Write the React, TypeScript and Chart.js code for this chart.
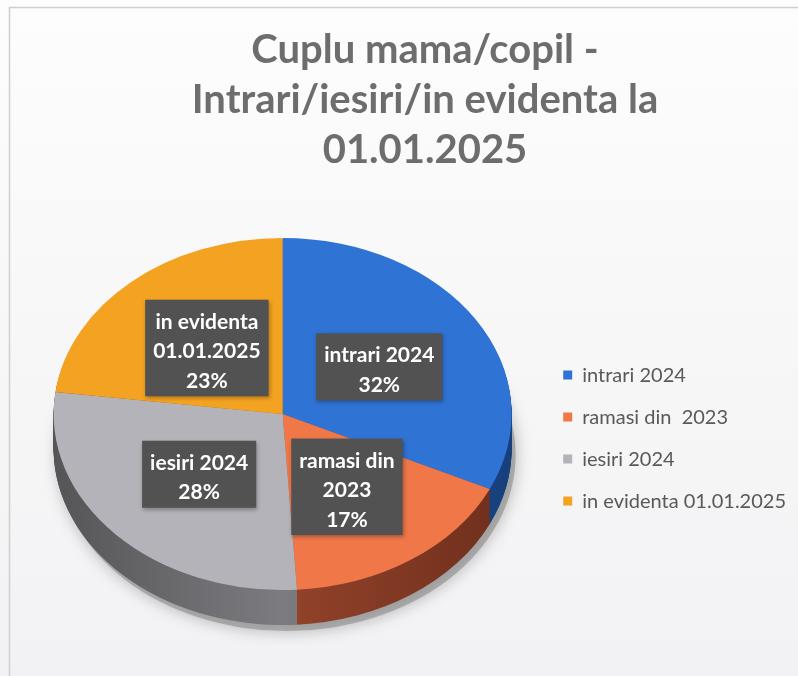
import React, { useEffect, useRef } from 'react';
import { Chart, registerables } from 'chart.js';

Chart.register(...registerables);

// ---- data ----
const categories = ['intrari 2024', 'ramasi din  2023', 'iesiri 2024', 'in evidenta 01.01.2025'];
const values = [32, 17, 28, 23];
const sliceLabelLines = [['intrari 2024'], ['ramasi din', '2023'], ['iesiri 2024'], ['in evidenta', '01.01.2025']];
const titleLines = ['Cuplu mama/copil -', 'Intrari/iesiri/in evidenta la', '01.01.2025'];

// ---- styles ----
const topColors = ['#2f73d4', '#f07848', '#b3b3b9', '#f3a321'];
const sideColors = ['#1f58a8', '#93432a', '#7c7c80', '#b07414'];
const sideEdgeColors = ['#173f7a', '#6e2e1c', '#555558', '#7a500c'];
const TILT = 0.7686;
const DEPTH = 35;
const FONT = 'Lato, "Open Sans", sans-serif';

const pageDecor = {
  id: 'pageDecor',
  beforeDraw(chart: any) {
    const { ctx, width, height } = chart;
    ctx.save();
    const g = ctx.createLinearGradient(0, 0, 0, height);
    g.addColorStop(0, '#fdfdfd');
    g.addColorStop(1, '#f2f1f3');
    ctx.fillStyle = g;
    ctx.fillRect(0, 0, width, height);
    ctx.strokeStyle = '#cfcfcf';
    ctx.lineWidth = 1.5;
    ctx.beginPath();
    ctx.moveTo(9.5, height);
    ctx.lineTo(9.5, 7.5);
    ctx.lineTo(width, 7.5);
    ctx.stroke();
    ctx.restore();
  },
  afterDraw(chart: any) {
    const { ctx } = chart;
    ctx.save();
    ctx.font = `bold 40px ${FONT}`;
    ctx.fillStyle = '#6d6d6d';
    ctx.textAlign = 'center';
    ctx.textBaseline = 'alphabetic';
    const baselines = [63, 113, 163];
    titleLines.forEach((t, i) => ctx.fillText(t, 425, baselines[i]));
    ctx.restore();
  },
};

let pushed = false;
const pie3d = {
  id: 'pie3d',
  beforeDatasetsDraw(chart: any) {
    const ctx = chart.ctx;
    const arcs = chart.getDatasetMeta(0).data;
    pushed = false;
    if (!arcs.length) return;
    const cx = arcs[0].x;
    const cy = arcs[0].y;
    const R = arcs[0].outerRadius;
    // soft shadow under pie
    ctx.save();
    ctx.translate(cx + 4, cy + DEPTH + 6);
    ctx.scale(1, TILT);
    ctx.shadowColor = 'rgba(0,0,0,0.45)';
    ctx.shadowBlur = 16;
    ctx.beginPath();
    ctx.arc(0, 0, R, 0, Math.PI * 2);
    ctx.fillStyle = 'rgba(140,140,140,0.6)';
    ctx.fill();
    ctx.restore();
    for (let d = DEPTH; d >= 1; d--) {
      ctx.save();
      ctx.translate(cx, cy + d);
      ctx.scale(1, TILT);
      arcs.forEach((a: any, i: number) => {
        const p = a.getProps(['startAngle', 'endAngle', 'outerRadius'], true);
        const g = ctx.createLinearGradient(-p.outerRadius, 0, p.outerRadius, 0);
        g.addColorStop(0, sideEdgeColors[i]);
        g.addColorStop(0.5, sideColors[i]);
        g.addColorStop(1, sideEdgeColors[i]);
        ctx.beginPath();
        ctx.moveTo(0, 0);
        ctx.arc(0, 0, p.outerRadius, p.startAngle, p.endAngle);
        ctx.closePath();
        ctx.fillStyle = g;
        ctx.fill();
      });
      ctx.restore();
    }
    ctx.save();
    ctx.translate(cx, cy);
    ctx.scale(1, TILT);
    ctx.translate(-cx, -cy);
    pushed = true;
  },
  afterDatasetsDraw(chart: any) {
    const ctx = chart.ctx;
    if (pushed) ctx.restore();
    pushed = false;
    const arcs = chart.getDatasetMeta(0).data;
    if (!arcs.length) return;
    const cx = arcs[0].x;
    const cy = arcs[0].y;
    const data = chart.data.datasets[0].data as number[];
    const total = data.reduce((s, v) => s + v, 0);
    ctx.save();
    ctx.font = `bold 21px ${FONT}`;
    arcs.forEach((a: any, i: number) => {
      const p = a.getProps(['startAngle', 'endAngle', 'outerRadius'], true);
      const mid = (p.startAngle + p.endAngle) / 2;
      const r = p.outerRadius * 0.5;
      const x = cx + Math.cos(mid) * r;
      const y = cy + Math.sin(mid) * r * TILT;
      const lines = [...sliceLabelLines[i], Math.round((data[i] / total) * 100) + '%'];
      const w = Math.max(...lines.map((l) => ctx.measureText(l).width)) + 16;
      const lh = 29.5;
      const h = lines.length * lh + 8;
      const left = x - w / 2;
      const top = y - h / 2;
      ctx.save();
      ctx.shadowColor = 'rgba(0,0,0,0.3)';
      ctx.shadowBlur = 4;
      ctx.shadowOffsetX = 1;
      ctx.shadowOffsetY = 2;
      ctx.fillStyle = '#525252';
      ctx.fillRect(left, top, w, h);
      ctx.restore();
      ctx.fillStyle = '#ffffff';
      ctx.textAlign = 'center';
      ctx.textBaseline = 'alphabetic';
      lines.forEach((l, k) => ctx.fillText(l, x, top + 29 + k * lh));
    });
    ctx.restore();
  },
};

export default function App() {
  const ref = useRef<HTMLCanvasElement | null>(null);
  useEffect(() => {
    if (!ref.current) return;
    const chart = new Chart(ref.current, {
      type: 'pie',
      data: {
        labels: categories,
        datasets: [
          {
            data: values,
            backgroundColor: topColors,
            borderWidth: 0,
          },
        ],
      },
      options: {
        animation: false,
        responsive: false,
        maintainAspectRatio: false,
        layout: { padding: { left: 24, right: 2, top: 185, bottom: 33 } },
        plugins: {
          title: { display: false },
          tooltip: { enabled: false },
          legend: {
            display: true,
            position: 'right',
            align: 'center',
            title: { display: true, text: '', font: { size: 1 }, padding: { top: 47, bottom: 0 } },
            labels: {
              boxWidth: 9,
              boxHeight: 9,
              padding: 22,
              color: '#595959',
              font: { family: FONT, size: 20 },
            },
          },
        },
      },
      plugins: [pageDecor, pie3d],
    });
    return () => chart.destroy();
  }, []);
  return (
    <div style={{ position: 'fixed', left: 0, top: 0, width: 798, height: 676 }}>
      <canvas ref={ref} width={798} height={676} style={{ display: 'block', width: 798, height: 676 }} />
    </div>
  );
}
